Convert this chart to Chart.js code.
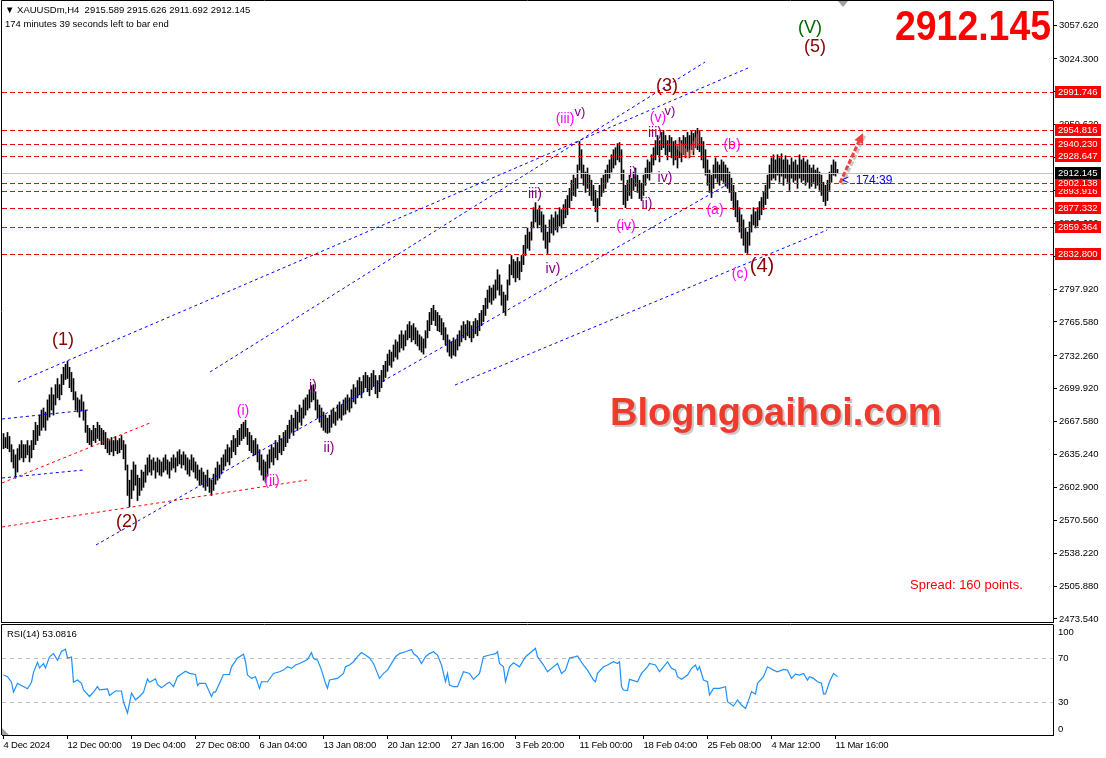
<!DOCTYPE html>
<html>
<head>
<meta charset="utf-8">
<script src="https://cdn.jsdelivr.net/npm/chart.js@4.4.1/dist/chart.umd.min.js"></script>
<style>
html, body { margin: 0; padding: 0; background: #fff; }
#wrap { position: relative; width: 1106px; height: 758px; overflow: hidden; background: #fff; }
canvas { position: absolute; left: 0; }
#main { top: 0; }
#rsi { top: 623px; }
</style>
</head>
<body>
<div id="wrap">
  <canvas id="main" width="1106" height="623"></canvas>
  <canvas id="rsi" width="1106" height="135"></canvas>
</div>
<script>
// H4 bars, XAUUSDm, 4 Dec 2024 .. 11 Mar 2025 (one value per bar)
const highs = [
  2656,2652,2657,2653,2645,2640,2635,2641,2645,2649,2645,2645,2649,2644,2649,2659,2667,2664,2674,2679,
  2681,2677,2689,2694,2701,2694,2704,2710,2704,2714,2721,2724,2727,2721,2716,2710,2697,2691,2689,2694,
  2687,2679,2664,2661,2659,2664,2661,2667,2664,2661,2659,2657,2651,2649,2652,2649,2653,2649,2651,2654,
  2649,2645,2625,2610,2620,2628,2625,2615,2612,2620,2618,2625,2632,2635,2630,2632,2628,2632,2630,2628,
  2632,2635,2630,2628,2632,2635,2632,2638,2640,2635,2638,2635,2632,2630,2635,2632,2628,2625,2620,2622,
  2618,2615,2620,2612,2610,2616,2622,2628,2625,2632,2635,2640,2645,2642,2649,2654,2651,2659,2661,2665,
  2667,2669,2661,2657,2654,2649,2651,2645,2640,2635,2630,2628,2635,2640,2645,2642,2649,2647,2654,2651,
  2657,2659,2664,2669,2674,2671,2679,2677,2684,2681,2689,2691,2694,2699,2703,2704,2697,2689,2684,2681,
  2677,2674,2671,2674,2679,2681,2677,2684,2687,2684,2689,2691,2694,2691,2699,2704,2701,2708,2711,2707,
  2713,2716,2713,2711,2715,2718,2713,2708,2713,2718,2723,2727,2734,2738,2736,2743,2748,2746,2753,2757,
  2753,2757,2763,2766,2762,2764,2760,2757,2753,2751,2749,2757,2767,2775,2779,2782,2777,2775,2772,2769,
  2765,2760,2753,2748,2746,2750,2748,2753,2757,2762,2766,2763,2767,2766,2762,2766,2769,2767,2774,2777,
  2782,2789,2797,2801,2799,2802,2807,2817,2812,2802,2795,2792,2807,2822,2831,2827,2825,2829,2825,2831,
  2841,2851,2858,2854,2864,2878,2883,2876,2880,2874,2871,2861,2854,2866,2871,2868,2874,2871,2878,2876,
  2881,2886,2890,2897,2905,2910,2907,2920,2943,2935,2920,2913,2917,2910,2905,2900,2895,2887,2900,2907,
  2910,2915,2920,2925,2930,2935,2937,2941,2942,2935,2915,2900,2905,2910,2907,2913,2917,2910,2905,2902,
  2910,2917,2925,2923,2930,2937,2944,2949,2944,2952,2954,2949,2944,2949,2947,2943,2944,2939,2947,2944,
  2949,2947,2952,2949,2954,2951,2954,2956,2954,2947,2943,2935,2925,2915,2910,2920,2927,2923,2920,2925,
  2923,2920,2917,2913,2907,2900,2893,2885,2878,2871,2866,2858,2854,2864,2871,2878,2874,2878,2884,2888,
  2893,2900,2910,2920,2927,2930,2925,2930,2927,2931,2925,2929,2925,2920,2927,2923,2925,2920,2930,2925,
  2927,2923,2925,2920,2917,2920,2915,2917,2913,2910,2903,2900,2905,2913,2920,2925,2923,2915.6
];
const lows = [
  2641,2642,2641,2638,2628,2622,2612,2618,2630,2632,2628,2632,2635,2628,2632,2640,2645,2649,2654,2659,
  2662,2659,2669,2672,2679,2674,2684,2691,2689,2694,2704,2709,2710,2701,2697,2689,2679,2677,2672,2678,
  2669,2657,2647,2645,2643,2649,2647,2651,2649,2645,2645,2641,2637,2635,2638,2634,2639,2636,2637,2640,
  2631,2620,2595,2584,2592,2600,2605,2590,2595,2600,2603,2608,2615,2618,2615,2620,2612,2618,2615,2614,
  2618,2620,2616,2612,2620,2622,2618,2624,2626,2622,2625,2620,2616,2614,2620,2618,2612,2610,2605,2606,
  2603,2600,2604,2598,2595,2600,2606,2610,2612,2616,2620,2624,2628,2625,2632,2638,2635,2643,2645,2649,
  2651,2653,2645,2639,2637,2634,2635,2628,2620,2615,2610,2608,2614,2622,2628,2625,2632,2630,2637,2635,
  2639,2643,2647,2651,2657,2654,2661,2659,2667,2664,2671,2674,2679,2681,2687,2689,2679,2671,2667,2662,
  2659,2657,2656,2657,2662,2666,2664,2669,2671,2669,2674,2675,2679,2677,2681,2687,2685,2691,2694,2691,
  2697,2701,2697,2693,2699,2703,2695,2691,2697,2701,2707,2711,2717,2723,2721,2727,2731,2729,2736,2740,
  2738,2742,2748,2750,2746,2748,2744,2742,2738,2736,2734,2740,2750,2757,2763,2767,2762,2757,2756,2753,
  2748,2743,2736,2732,2730,2733,2732,2738,2742,2746,2750,2748,2752,2750,2746,2750,2754,2752,2757,2762,
  2766,2772,2779,2785,2783,2787,2789,2797,2792,2782,2775,2772,2787,2802,2812,2809,2805,2809,2807,2815,
  2822,2831,2838,2836,2846,2858,2864,2858,2861,2854,2846,2838,2833,2844,2853,2851,2856,2854,2860,2858,
  2862,2868,2871,2878,2885,2890,2889,2897,2915,2907,2900,2893,2897,2890,2885,2880,2874,2864,2880,2889,
  2893,2897,2903,2907,2913,2917,2920,2925,2923,2905,2881,2878,2885,2890,2887,2895,2899,2893,2887,2885,
  2890,2900,2907,2905,2913,2920,2925,2930,2923,2935,2937,2930,2925,2933,2927,2920,2925,2917,2927,2923,
  2930,2927,2933,2927,2935,2930,2937,2935,2933,2925,2917,2910,2900,2893,2888,2897,2907,2903,2900,2905,
  2903,2899,2897,2893,2885,2876,2869,2864,2854,2848,2841,2834,2833,2841,2854,2861,2858,2860,2866,2871,
  2876,2881,2887,2897,2905,2907,2905,2910,2903,2909,2900,2907,2903,2895,2907,2903,2905,2897,2907,2903,
  2905,2900,2903,2897,2899,2903,2897,2900,2895,2890,2884,2880,2885,2895,2903,2910,2909,2911.7
];

const priceTicks = [3057.62, 3024.30, 2991.96, 2959.62, 2927.28, 2894.94, 2862.60, 2830.26, 2797.92,
  2765.58, 2732.26, 2699.92, 2667.58, 2635.24, 2602.90, 2570.56, 2538.22, 2505.88, 2473.54];
const levelPrices = [2991.746, 2954.816, 2940.230, 2928.647, 2893.916, 2902.138, 2877.332, 2859.364, 2832.800];
const lastPrice = 2912.145;

const timeTickBars = [0, 32, 64, 96, 128, 160, 192, 224, 256, 288, 320, 352, 384, 416];
const timeLabels = ['4 Dec 2024', '12 Dec 00:00', '19 Dec 04:00', '27 Dec 08:00', '6 Jan 04:00',
  '13 Jan 08:00', '20 Jan 12:00', '27 Jan 16:00', '3 Feb 20:00', '11 Feb 00:00', '18 Feb 04:00',
  '25 Feb 08:00', '4 Mar 12:00', '11 Mar 16:00'];

// RSI(14), sampled along the line
const rsiBars = [0,2,4,5,7,9,12,14,15,17,18,20,21,23,25,27,29,31,32,34,35,37,39,40,43,45,47,48,52,53,56,59,60,62,64,66,68,70,72,73,76,77,79,82,83,85,87,91,93,96,97,98,
  101,104,105,106,108,110,113,114,117,120,121,122,124,126,128,129,132,135,138,140,142,144,146,148,152,154,155,157,159,161,162,163,167,170,171,173,175,177,179,181,183,185,187,188,190,192,195,196,198,
  201,204,205,207,209,211,213,215,217,219,221,222,223,225,227,229,230,233,235,238,240,243,246,247,248,250,251,253,255,258,261,264,266,267,
  270,272,274,277,279,281,283,286,287,290,292,295,296,297,300,302,305,307,308,309,310,312,313,317,319,322,323,326,328,330,332,334,336,337,339,342,344,346,347,348,350,352,353,355,358,361,362,365,367,369,371,372,374,376,377,380,382,385,387,390,392,394,396,398,400,402,403,405,407,409,410,411,413,415,417];
const rsiValues = [54.5,53,48,39,47,45,42,48,57,66,61,65,61,71,74,68,76,78,70,71,48,50,47,41,35,39,44,41,42,36,40,40,30,20,38,32,35,39,51,48,51,46,43,47,48,44,53,58,56,55,45,47,
  47,35,39,39,47,55,55,62,70,73.5,66.6,54.5,51.5,53,42.4,48.4,48.4,56,57.5,59,62,60.6,63.6,65,68.7,74.8,69.6,68.1,59,47,42.4,50,51.5,56,62,63.6,66.6,71.2,75,72.7,70,65,56,51.5,56,59,68.1,71.2,74,
  75.7,77.8,74,71.2,65,71.2,74,75.7,72.7,63.6,48.4,56,45.4,43.9,43.9,53,57.5,56,50.6,56,71.2,72.7,74,75.7,65,62,48.4,62,65.7,62,71.2,75.7,78.7,71.2,
  63.6,57.5,60.6,65,56,59,70,71.2,71.8,63.6,59,50,48.4,56,62,63.6,66.6,65,66.6,44,40.9,40.3,50.6,48.4,56,62,65,63.6,57.5,62,66.6,60.6,59,53,50.6,54.5,60.6,63.6,59,62,50,48.4,36.4,42.4,42.4,43.9,30.3,26.4,31.9,27.3,24.2,28.8,39.4,37.3,47,53,62,59,57.5,59.7,59,51.5,55.4,54.5,56,50,53,51.5,48.4,47,37.3,37.3,48.4,56,53.08];
const rsiLevels = [70, 30];
const rsiTicks = [100, 70, 30, 0];

// objects drawn on the chart: [bar1, price1, bar2, price2]
const blueLines = [
  [7.25, 2706.6, 372.25, 3015.3],
  [103.25, 2716.4, 350.75, 3021.2],
  [46.25, 2546.3, 363.25, 2902.3],
  [225.75, 2703.6, 411.75, 2856.0],
  [-0.75, 2670.2, 42.25, 2679.0],
  [-0.75, 2612.2, 39.75, 2620.0]
];
const redLines = [
  [-0.75, 2564.0, 151.75, 2610.2],
  [-0.75, 2607.3, 73.25, 2666.3]
];
// pink "M" marker near the top of (3): [bar, price] vertices
const markShape = [[336.5, 2946.5], [342.5, 2933.5], [348, 2955], [348, 2942], [342.5, 2925], [336.5, 2936]];

const MAROON = '#8b0000', MAGENTA = '#ff00ff', PURPLE = '#800080', GREEN = '#006400';
const waveLabels = [
  ['(1)', 29.75, 2747.9, MAROON, 18], ['(2)', 61.75, 2568.9, MAROON, 18], ['(3)', 331.75, 2997.6, MAROON, 18],
  ['(4)', 379.25, 2819.7, MAROON, 20], ['(5)', 405.75, 3036.0, MAROON, 18], ['(V)', 403.25, 3054.7, GREEN, 18],
  ['(i)', 119.75, 2678.1, MAGENTA, 14], ['(ii)', 134.25, 2609.2, MAGENTA, 14], ['(iii)', 280.75, 2965.2, MAGENTA, 14],
  ['(iv)', 311.25, 2860.0, MAGENTA, 14], ['(v)', 327.25, 2966.2, MAGENTA, 14], ['(a)', 355.75, 2875.7, MAGENTA, 14],
  ['(b)', 364.25, 2939.6, MAGENTA, 14], ['(c)', 368.25, 2812.8, MAGENTA, 14],
  ['i)', 154.75, 2702.6, PURPLE, 14], ['ii)', 162.75, 2641.7, PURPLE, 14], ['iii)', 265.75, 2891.4, PURPLE, 14],
  ['iv)', 274.75, 2817.7, PURPLE, 14], ['v)', 288.25, 2972.1, PURPLE, 13], ['i)', 314.75, 2912.1, PURPLE, 14],
  ['ii)', 321.75, 2881.6, PURPLE, 14], ['iv)', 330.75, 2907.2, PURPLE, 14], ['iii)', 325.75, 2951.4, PURPLE, 14],
  ['v)', 333.25, 2973.1, PURPLE, 13]
];
const arrow = [418.25, 2902.3, 429.75, 2951.4];

const SANS = "'Liberation Sans', Arial, sans-serif";

function dashLine(ctx, x1, y1, x2, y2, color, dash, width) {
  ctx.save();
  ctx.strokeStyle = color;
  ctx.lineWidth = width || 1;
  ctx.setLineDash(dash);
  ctx.beginPath();
  ctx.moveTo(x1, y1);
  ctx.lineTo(x2, y2);
  ctx.stroke();
  ctx.restore();
}

const mainOverlay = {
  id: 'mainOverlay',
  afterDatasetsDraw(chart) {
    const { ctx, chartArea: a, scales: { x, y } } = chart;
    ctx.save();
    ctx.beginPath();
    ctx.rect(a.left, a.top, a.right - a.left, a.bottom - a.top);
    ctx.clip();

    ctx.fillStyle = 'rgba(255,110,110,0.45)';
    ctx.beginPath();
    markShape.forEach(([b, p], k) => {
      const px = x.getPixelForValue(b), py = y.getPixelForValue(p);
      if (k === 0) ctx.moveTo(px, py); else ctx.lineTo(px, py);
    });
    ctx.closePath();
    ctx.fill();

    const ly = Math.round(y.getPixelForValue(lastPrice)) + 0.5;
    dashLine(ctx, a.left, ly, a.right, ly, '#c0c0c0', []);
    levelPrices.forEach(p => {
      const py = Math.round(y.getPixelForValue(p)) + 0.5;
      dashLine(ctx, a.left, py, a.right, py, '#ff0000', [5, 3]);
    });
    blueLines.forEach(l => dashLine(ctx, x.getPixelForValue(l[0]), y.getPixelForValue(l[1]),
      x.getPixelForValue(l[2]), y.getPixelForValue(l[3]), '#0000ff', [3, 3]));
    redLines.forEach(l => dashLine(ctx, x.getPixelForValue(l[0]), y.getPixelForValue(l[1]),
      x.getPixelForValue(l[2]), y.getPixelForValue(l[3]), '#ff0000', [3, 3]));

    ctx.textAlign = 'center';
    ctx.textBaseline = 'middle';
    waveLabels.forEach(([t, b, p, c, s]) => {
      ctx.font = s + 'px ' + SANS;
      ctx.fillStyle = c;
      ctx.fillText(t, x.getPixelForValue(b), y.getPixelForValue(p));
    });

    // watermark
    ctx.font = 'bold 38px ' + SANS;
    ctx.textAlign = 'left';
    ctx.textBaseline = 'alphabetic';
    ctx.fillStyle = '#c8c8c8';
    ctx.fillText('Blogngoaihoi.com', 612, 427);
    ctx.fillStyle = '#ee3b2c';
    ctx.fillText('Blogngoaihoi.com', 610, 425);

    // arrow
    const x1 = x.getPixelForValue(arrow[0]), y1 = y.getPixelForValue(arrow[1]);
    const x2 = x.getPixelForValue(arrow[2]), y2 = y.getPixelForValue(arrow[3]);
    dashLine(ctx, x1 + 2, y1 + 2, x2 + 2, y2 + 2, 'rgba(160,160,160,0.6)', [5, 2], 3);
    dashLine(ctx, x1, y1, x2 - 3, y2 + 6, '#f04040', [5, 2], 3);
    const ang = Math.atan2(y2 - y1, x2 - x1);
    ctx.fillStyle = '#f04040';
    ctx.beginPath();
    ctx.moveTo(x2, y2);
    ctx.lineTo(x2 - 11 * Math.cos(ang - 0.45), y2 - 11 * Math.sin(ang - 0.45));
    ctx.lineTo(x2 - 11 * Math.cos(ang + 0.45), y2 - 11 * Math.sin(ang + 0.45));
    ctx.closePath();
    ctx.fill();

    ctx.font = '12px ' + SANS;
    ctx.fillStyle = '#0000ff';
    ctx.textBaseline = 'middle';
    ctx.fillText('<  174:39', x1 + 2, ly + 7);

    ctx.font = '13px ' + SANS;
    ctx.fillStyle = '#ff0000';
    ctx.fillText('Spread: 160 points.', 910, 585);
    ctx.restore();
  },
  afterDraw(chart) {
    const { ctx, chartArea: a, scales: { y } } = chart;
    ctx.save();
    ctx.strokeStyle = '#000';
    ctx.lineWidth = 1;
    ctx.beginPath();
    ctx.moveTo(1.5, 622.5); ctx.lineTo(1.5, 0.5); ctx.lineTo(a.right + 0.5, 0.5);
    ctx.moveTo(1, 622.5); ctx.lineTo(a.right + 1, 622.5);
    ctx.stroke();

    ctx.font = '9.5px ' + SANS;
    ctx.textBaseline = 'middle';
    ctx.textAlign = 'left';
    const box = (p, bg) => {
      const py = Math.round(y.getPixelForValue(p));
      ctx.fillStyle = bg;
      ctx.fillRect(a.right + 2, py - 6, 46, 12);
      ctx.fillStyle = '#fff';
      ctx.fillText(p.toFixed(3), a.right + 5, py + 0.5);
    };
    levelPrices.forEach(p => box(p, '#ff0000'));
    box(lastPrice, '#000');

    ctx.fillStyle = '#000';
    ctx.font = '9.5px ' + SANS;
    ctx.fillText('\u25BC XAUUSDm,H4  2915.589 2915.626 2911.692 2912.145', 5, 10);
    ctx.fillText('174 minutes 39 seconds left to bar end', 5, 24);

    // big last price, slightly condensed
    ctx.save();
    ctx.font = 'bold 43px ' + SANS;
    ctx.fillStyle = '#ff0000';
    ctx.textAlign = 'right';
    ctx.textBaseline = 'alphabetic';
    ctx.translate(1051, 40);
    ctx.scale(0.87, 1);
    ctx.fillText('2912.145', 0, 0);
    ctx.restore();

    ctx.fillStyle = '#a0a0a0';
    ctx.beginPath();
    ctx.moveTo(838, 1); ctx.lineTo(848, 1); ctx.lineTo(843, 7);
    ctx.fill();
    ctx.restore();
  }
};

const bars = highs.map((h, i) => ({ x: i, y: [lows[i], h] }));

new Chart(document.getElementById('main'), {
  type: 'bar',
  data: { datasets: [{ data: bars, backgroundColor: '#000', borderWidth: 0, barThickness: 1, grouped: false }] },
  options: {
    responsive: false, animation: false, events: [], devicePixelRatio: 1,
    layout: { padding: { left: 2, top: 1, right: 0, bottom: 1 } },
    plugins: { legend: { display: false }, tooltip: { enabled: false } },
    scales: {
      x: { type: 'linear', min: -0.75, max: 524.75, offset: false, display: false },
      y: {
        position: 'right', min: 2470.58, max: 3081.22,
        afterBuildTicks: s => { s.ticks = priceTicks.map(v => ({ value: v })); },
        afterFit: s => { s.width = 53; s.paddingTop = 0; s.paddingBottom = 0; },
        grid: { drawOnChartArea: false, color: '#000', tickLength: 4 },
        border: { color: '#000' },
        ticks: { autoSkip: false, padding: 2, color: '#000', font: { family: SANS, size: 9.5 }, callback: v => v.toFixed(3) }
      }
    }
  },
  plugins: [mainOverlay]
});

const rsiOverlay = {
  id: 'rsiOverlay',
  beforeDraw(chart) {
    chart.ctx.letterSpacing = '-0.2px';
  },
  beforeDatasetsDraw(chart) {
    const { ctx, chartArea: a, scales: { y } } = chart;
    rsiLevels.forEach(v => {
      const py = Math.round(y.getPixelForValue(v)) + 0.5;
      dashLine(ctx, a.left, py, a.right, py, '#c0c0c0', [4, 4]);
    });
  },
  afterDraw(chart) {
    const { ctx, chartArea: a, scales: { y } } = chart;
    ctx.save();
    ctx.letterSpacing = '0px';
    ctx.strokeStyle = '#000';
    ctx.beginPath();
    ctx.moveTo(1.5, a.bottom); ctx.lineTo(1.5, 1.5); ctx.lineTo(a.right + 0.5, 1.5);
    ctx.stroke();
    ctx.fillStyle = '#000';
    ctx.font = '9.5px ' + SANS;
    ctx.textBaseline = 'middle';
    ctx.textAlign = 'left';
    ctx.fillText('RSI(14) 53.0816', 7, 11);
    rsiTicks.forEach(v => {
      let py = y.getPixelForValue(v);
      if (v === 100) py += 7;
      if (v === 0) py -= 6;
      ctx.fillText(String(v), a.right + 5, py);
    });
    ctx.fillStyle = '#a0a0a0';
    ctx.beginPath();
    ctx.moveTo(2, a.bottom - 7); ctx.lineTo(2, a.bottom); ctx.lineTo(9, a.bottom);
    ctx.fill();
    ctx.restore();
  }
};

new Chart(document.getElementById('rsi'), {
  type: 'line',
  data: { datasets: [{ data: rsiBars.map((b, i) => ({ x: b, y: rsiValues[i] })), borderColor: '#1e90ff', borderWidth: 1.2, pointRadius: 0, tension: 0 }] },
  options: {
    responsive: false, animation: false, events: [], devicePixelRatio: 1,
    layout: { padding: { left: 2, top: 2, right: 0, bottom: 0 } },
    plugins: { legend: { display: false }, tooltip: { enabled: false } },
    scales: {
      x: {
        type: 'linear', min: -0.75, max: 524.75, offset: false,
        afterBuildTicks: s => { s.ticks = timeTickBars.map(v => ({ value: v })); },
        afterFit: s => { s.height = 23; s.paddingLeft = 0; s.paddingRight = 0; },
        grid: { drawOnChartArea: false, color: '#000', tickLength: 4 },
        border: { color: '#000' },
        ticks: { autoSkip: false, maxRotation: 0, align: 'start', padding: 1, color: '#000',
          font: { family: SANS, size: 9.5 }, callback: v => timeLabels[timeTickBars.indexOf(v)] }
      },
      y: {
        position: 'right', min: 0, max: 100,
        afterFit: s => { s.width = 53; s.paddingTop = 0; s.paddingBottom = 0; },
        grid: { display: false },
        border: { color: '#000' },
        ticks: { display: false }
      }
    }
  },
  plugins: [rsiOverlay]
});
</script>
</body>
</html>
